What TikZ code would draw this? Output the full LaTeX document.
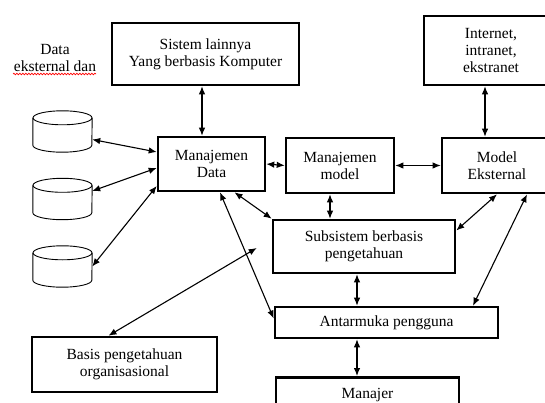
\documentclass[tikz,border=0pt]{standalone}
\usepackage{fontspec}
\setmainfont{Liberation Serif}
\usetikzlibrary{arrows.meta,decorations.pathmorphing}
\begin{document}
\begin{tikzpicture}
  [x=1pt,y=-1pt,>={Latex[length=8pt,width=6.5pt]},
   every node/.style={font=\fontsize{15.5}{17}\selectfont,align=center},
   box/.style={draw,line width=2.6pt,fill=white,inner sep=0pt},
   db/.style={minimum width=59pt,minimum height=41pt,inner sep=0pt},
   link/.style={<->,line width=1.1pt}]
  \useasboundingbox (0,0) rectangle (545,403);
  \clip (0,0) rectangle (545,403);

  \node (lbl) at (55,58) {Data\\eksternal dan};
  \draw[red,line width=.7pt,decorate,decoration={snake,amplitude=.8pt,segment length=3pt}] (13,74) -- (96,74);

  \node[box,minimum width=187pt,minimum height=62pt] (sis) at (205.5,54) {Sistem lainnya\\Yang berbasis Komputer};
  \node[box,minimum width=134pt,minimum height=69pt] (inet) at (491,50.5) {Internet,\\intranet,\\ekstranet};
  \node[box,minimum width=107pt,minimum height=54pt] (md) at (211.5,164) {Manajemen\\Data};
  \node[box,minimum width=108pt,minimum height=55pt] (mm) at (340,165.5) {Manajemen\\model};
  \node[box,minimum width=110pt,minimum height=55pt] (me) at (497,165.5) {Model\\Eksternal};
  \node[box,minimum width=182pt,minimum height=53pt] (sub) at (364,246.5) {Subsistem berbasis\\pengetahuan};
  \node[box,minimum width=223pt,minimum height=31pt] (ant) at (386.5,322.5) {Antarmuka pengguna};
  \node[box,minimum width=185pt,minimum height=55pt] (bas) at (124.5,364.5) {Basis pengetahuan\\organisasional};
  \node[box,minimum width=183pt,minimum height=36pt,anchor=north] (man) at (367.5,376) {Manajer};

  \node[db] (c1) at (62.5,131.5) {};
  \node[db] (c2) at (62.5,199) {};
  \node[db] (c3) at (62.5,266.5) {};
  % database drums
  \foreach \c in {c1,c2,c3}{
    \draw[line width=.9pt] ([yshift=-7pt]\c.north) ellipse [x radius=29.5pt,y radius=7pt];
    \draw[line width=.9pt] ([yshift=-7pt]\c.north west) -- ([yshift=7pt]\c.south west)
      arc[start angle=180,end angle=360,x radius=29.5pt,y radius=7pt] -- ([yshift=-7pt]\c.north east);
  }

  \foreach \from/\to in {md.east/mm.west,mm.east/me.west}
    \draw[link] (\from) -- (\to);
  \draw[link] ([xshift=-3.5pt]sis.south) -- ([xshift=-9.5pt]md.north);
  \draw[link] ([xshift=-6pt]inet.south) -- ([xshift=-12pt]me.north);
  \draw[link] ([yshift=-8pt]c1.east) -- ([yshift=12pt]md.west);
  \draw[link] ([yshift=8pt]c2.east) -- ([yshift=-4pt]md.west);
  \draw[link] (c3.east) -- ([yshift=-22pt]md.west);
  \draw[link] ([xshift=23pt]md.south) -- (sub.north west);
  \draw[link] ([xshift=8.5pt]md.south) -- ([yshift=4pt]ant.west);
  \draw[link] ([xshift=-16pt]bas.north) -- ([xshift=-15pt,yshift=-1.5pt]sub.west);
  \draw[link] ([xshift=-10pt]mm.south) -- ([xshift=-34pt]sub.north);
  \draw[link] (me.south) -- ([yshift=16pt]sub.east);
  \draw[link] ([xshift=30pt]me.south) -- ([xshift=86.5pt]ant.north);
  \draw[link] ([xshift=-7pt]sub.south) -- ([xshift=-29.5pt]ant.north);
  \draw[link] ([xshift=-29.5pt]ant.south) -- ([xshift=-10.5pt]man.north);
\end{tikzpicture}
\end{document}
